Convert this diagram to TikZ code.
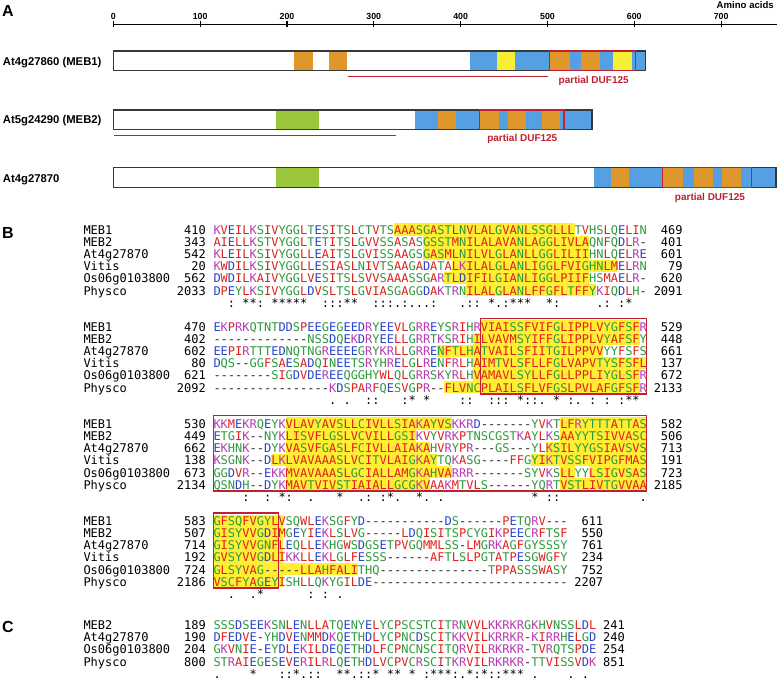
\documentclass[tikz,border=0pt]{standalone}
\usepackage{fontspec}
\setmainfont{Liberation Sans}
\newfontfamily\seqfont{DejaVu Sans Mono}
\definecolor{aared}{HTML}{E0201B}
\definecolor{aablue}{HTML}{2B44C8}
\definecolor{aamag}{HTML}{B83BB5}
\definecolor{aagreen}{HTML}{2E9A3E}
\definecolor{gapc}{HTML}{222222}
\definecolor{hly}{HTML}{FFEE33}
\definecolor{boxred}{HTML}{C0202F}
\definecolor{fblue}{HTML}{559FE3}
\definecolor{forange}{HTML}{DF962A}
\definecolor{fyellow}{HTML}{F7EE35}
\definecolor{fgreen}{HTML}{9CC63C}
\definecolor{barline}{HTML}{383838}
\newlength\cw \setlength\cw{7.224pt}
\makeatletter
\def\mkres#1#2{\expandafter\def\csname res@#1\endcsname{\textcolor{#2}{#1}}}
\mkres A{aared}\mkres V{aared}\mkres F{aared}\mkres P{aared}\mkres M{aared}\mkres I{aared}\mkres L{aared}\mkres W{aared}
\mkres D{aablue}\mkres E{aablue}
\mkres R{aamag}\mkres K{aamag}
\mkres S{aagreen}\mkres T{aagreen}\mkres Y{aagreen}\mkres H{aagreen}\mkres C{aagreen}\mkres N{aagreen}\mkres G{aagreen}\mkres Q{aagreen}
\mkres -{gapc}
\mkres *{black}\mkres :{black}\mkres .{black}
\expandafter\def\csname res@x\endcsname{}
\def\seqrun#1{\ifx#1\relax\else\hbox to\cw{\hss\csname res@#1\endcsname\hss}\expandafter\seqrun\fi}
\newcommand\sq[1]{\seqrun#1\relax}
\makeatother
\newcommand\seqrow[6]{%
  \node[txt,anchor=base west] at (83.3,#1+4.4) {#2};
  \node[txt,anchor=base east] at (206.08,#1+4.4) {#3};
  \node[txt,anchor=base west] at (213.3,#1+4.4) {\sq{#4}};
  \node[txt,anchor=base east] at (#6,#1+4.4) {#5};}
\newcommand\consrow[2]{\node[txt,anchor=base west] at (213.3,#1+4.4) {\sq{#2}};}
\newcommand\hl[3]{\fill[hly] (213.3+#2*7.224-7.224,#1-6.6) rectangle (213.3+#3*7.224,#1+5.53);}
\newcommand\redbox[4]{\draw[boxred,line width=1.4] (213.3+#3*7.224-7.224,#1-8.3) rectangle (213.3+#4*7.224,#2+6.3);}
\newcommand\feat[5]{\fill[#1] (#2,#4) rectangle (#3,#5);}
\begin{document}
\begin{tikzpicture}[x=1pt,y=-1pt,
  txt/.style={font=\seqfont\fontsize{12}{12}\selectfont, inner sep=0pt, text=black},
  tick/.style={font=\bfseries\fontsize{8.8}{9}\selectfont, inner sep=0pt, anchor=base},
  gene/.style={font=\bfseries\fontsize{11.3}{12}\selectfont, inner sep=0pt, anchor=base west},
  duf/.style={font=\bfseries\fontsize{10}{10}\selectfont, inner sep=0pt, anchor=base, text=boxred},
  panel/.style={font=\bfseries\fontsize{16}{16}\selectfont, inner sep=0pt, anchor=base west},
  bar/.style={draw=barline, line width=1.5},
  dbox/.style={draw=boxred, line width=1.3},
  uline/.style={draw=boxred, line width=1.4}]
\useasboundingbox (0,0) rectangle (778,682);
\fill[white] (0,0) rectangle (778,682);

% ---------------- Panel A ----------------
\node[panel] (labA) at (1.8,16.6) {A};
\node[font=\bfseries\fontsize{9.6}{10}\selectfont, inner sep=0pt, anchor=base east] (aa) at (774,9) {Amino acids};
\draw[line width=1.3] (113.3,24.3) -- (776.5,24.3);
\foreach \k in {0,...,7} {
  \draw[line width=1.1] (113.3+86.83*\k,20.7) -- (113.3+86.83*\k,27.5);
  \pgfmathtruncatemacro\lab{100*\k}
  \node[tick] (t\k) at (113.3+86.83*\k,19.2) {\lab};
}
% MEB1
\node[gene] (g1) at (2.7,65.5) {At4g27860 (MEB1)};
\fill[white] (113.3,51) rectangle (645.7,70.7);
\feat{forange}{294.3}{313.3}{51}{70.7}
\feat{forange}{328.7}{347.3}{51}{70.7}
\feat{fblue}{470}{496.7}{51}{70.7}
\feat{fyellow}{496.7}{515}{51}{70.7}
\feat{fblue}{515}{549.3}{51}{70.7}
\feat{forange}{549.3}{570}{51}{70.7}
\feat{fblue}{570}{581}{51}{70.7}
\feat{forange}{581}{600}{51}{70.7}
\feat{fblue}{600}{613.3}{51}{70.7}
\feat{fyellow}{613.3}{632.3}{51}{70.7}
\feat{fblue}{632.3}{645.7}{51}{70.7}
\draw[bar] (113.3,51) rectangle (645.7,70.7);
\draw[dbox] (549.3,51) rectangle (635.7,70.7);
\coordinate (u1a) at (348.3,76.5); \coordinate (u1b) at (547.7,76.5);
\draw[uline] (u1a) -- (u1b);
\node[duf] (d1) at (593.7,84) {partial DUF125};
% MEB2
\node[gene] (g2) at (2.7,124) {At5g24290 (MEB2)};
\fill[white] (113.3,110) rectangle (592,129.3);
\feat{fgreen}{276}{319.3}{110}{129.3}
\feat{fblue}{415}{437.7}{110}{129.3}
\feat{forange}{437.7}{456}{110}{129.3}
\feat{fblue}{456}{479.3}{110}{129.3}
\feat{forange}{479.3}{499.3}{110}{129.3}
\feat{fblue}{499.3}{507.7}{110}{129.3}
\feat{forange}{507.7}{525.7}{110}{129.3}
\feat{fblue}{525.7}{542.3}{110}{129.3}
\feat{forange}{542.3}{560}{110}{129.3}
\feat{fblue}{560}{592}{110}{129.3}
\draw[bar] (113.3,110) rectangle (592,129.3);
\draw[dbox] (479.3,110) rectangle (564,129.3);
\coordinate (u2a) at (114.3,135.5); \coordinate (u2b) at (395.7,135.5);
\draw[uline] (u2a) -- (u2b);
\node[duf] (d2) at (522.3,141) {partial DUF125};
% At4g27870
\node[gene] (g3) at (2.7,182.7) {At4g27870};
\fill[white] (113.3,167.7) rectangle (776,187.3);
\feat{fgreen}{276}{319.3}{167.7}{187.3}
\feat{fblue}{594}{610.7}{167.7}{187.3}
\feat{forange}{610.7}{629.3}{167.7}{187.3}
\feat{fblue}{629.3}{662.7}{167.7}{187.3}
\feat{forange}{662.7}{683.3}{167.7}{187.3}
\feat{fblue}{683.3}{694.3}{167.7}{187.3}
\feat{forange}{694.3}{713.3}{167.7}{187.3}
\feat{fblue}{713.3}{722.3}{167.7}{187.3}
\feat{forange}{722.3}{741}{167.7}{187.3}
\feat{fblue}{741}{776}{167.7}{187.3}
\draw[bar] (113.3,167.7) rectangle (776,187.3);
\draw[dbox] (662.7,167.7) rectangle (751.7,187.3);
\node[duf] (d3) at (710,200) {partial DUF125};

% ---------------- Panel B ----------------
\node[panel] (labB) at (1.8,238) {B};
% highlights
\hl{230}{26}{50}
\hl{242.13}{30}{52}
\hl{254.26}{30}{52}
\hl{266.39}{34}{56}
\hl{278.52}{33}{52}
\hl{290.65}{36}{53}
\hl{327.04}{38}{59}
\hl{339.17}{37}{59}
\hl{351.30}{32}{54}
\hl{363.43}{37}{60}
\hl{375.56}{37}{59}
\hl{387.69}{33}{59}
\hl{424.08}{11}{33} \hl{424.08}{49}{60}
\hl{436.21}{11}{28} \hl{436.21}{49}{60}
\hl{448.34}{11}{30} \hl{448.34}{47}{60}
\hl{460.47}{9}{31} \hl{460.47}{45}{60}
\hl{472.60}{11}{33} \hl{472.60}{49}{50} \hl{472.60}{53}{60}
\hl{484.73}{11}{30} \hl{484.73}{49}{60}
\hl{521.12}{1}{9.7}
\hl{533.25}{1}{9.7}
\hl{545.38}{1}{9.7}
\hl{557.51}{1}{9.7}
\hl{569.64}{1}{20}
\hl{581.77}{1}{9.7}

% block 1
\seqrow{230}{MEB1}{410}{KVEILKSIVYGGLTESITSLCTVTSAAASGASTLNVLALGVANLSSGLLLTVHSLQELIN}{469}{682.86}
\seqrow{242.13}{MEB2}{343}{AIELLKSTVYGGLTETITSLGVVSSASASGSSTMNILALAVANLAGGLIVLAQNFQDLR-}{401}{682.86}
\seqrow{254.26}{At4g27870}{542}{KLEILKSIVYGGLLEAITSLGVISSAAGSGASMLNILVLGLANLLGGLILIIHNLQELRE}{601}{682.86}
\seqrow{266.39}{Vitis}{20}{KWDILKSIVYGGLLESIASLNIVTSAAGADATALKILALGLANLIGGLFVIGHNLMELRN}{79}{682.86}
\seqrow{278.52}{Os06g0103800}{562}{DWDILKAIVYGGLVESITSLSVVSAAASSGARTLDIFILGIANLIGGLPIIFHSMAELR-}{620}{682.86}
\seqrow{290.65}{Physco}{2033}{DPEYLKSIVYGGLDVSLTSLGVIASGAGGDAKTRNILALGLANLFFGFLTFFYKIQDLH-}{2091}{682.86}
\consrow{302.78}{xx:x**:x*****xx:::**xx:::.:...:xxx.::x*.:***xx*:xxxxx.:x:*}

% block 2
\seqrow{327.04}{MEB1}{470}{EKPRKQTNTDDSPEEGEGEEDRYEEVLGRREYSRIHRVIAISSFVIFGLIPPLVYGFSFR}{529}{682.86}
\seqrow{339.17}{MEB2}{402}{-------------NSSDQEKDRYEELLGRRTKSRIHILVAVMSYIFFGLIPPLVYAFSFY}{448}{682.86}
\seqrow{351.30}{At4g27870}{602}{EEPIRTTTEDNQTNGREEEEGRYKRLLGRRENFTLHATVAILSFIITGILPPVVYYFSFS}{661}{682.86}
\seqrow{363.43}{Vitis}{80}{DQS--GGFSAESADQINEETSRYHRELGLRENFRLHAIMTVLSFLLFGLVAPVTYSFSFL}{137}{682.86}
\seqrow{375.56}{Os06g0103800}{621}{--------SIGDVDEREEQGGHYWLQLGRRSKYRLHVAMAVLSYLLFGLLPPLIYGLSFR}{672}{682.86}
\seqrow{387.69}{Physco}{2092}{----------------KDSPARFQESVGPR--FLVNCPLAILSFLVFGSLPVLAFGFSFR}{2133}{682.86}
\consrow{399.82}{xxxxxxxxxxxxxxxx.x.xx::xxx:*x*xxxx::xx:::x*::.x*x:.x:x:x:**}

% block 3
\seqrow{424.08}{MEB1}{530}{KKMEKRQEYKVLAVYAVSLLCIVLLSIAKAYVSKKRD-------YVKTLFRYTTTATTAS}{582}{682.86}
\seqrow{436.21}{MEB2}{449}{ETGIK--NYKLISVFLGSLVCVILLGSIKVYVRKPTNSCGSTKAYLKSAAYYTSIVVASC}{506}{682.86}
\seqrow{448.34}{At4g27870}{662}{EKHNK--DYKVASVFGASLFCIVLLAIAKAHVRYPR---GS---YLKSILYYGSIAVSVS}{713}{682.86}
\seqrow{460.47}{Vitis}{138}{KSGNK--DLKLVAVAAASLVCITVLAIGKAYTQKASG----FFGYIKTVSSFVIPGFMAS}{191}{682.86}
\seqrow{472.60}{Os06g0103800}{673}{GGDVR--EKKMVAVAAASLGCIALLAMGKAHVARRR-------SYVKSLLYYLSIGVSAS}{723}{682.86}
\seqrow{484.73}{Physco}{2134}{QSNDH--DYKMAVTVIVSTIAIALLGCGKVAAKMTVLS------YQRTVSTLIVTGVVAA}{2185}{682.86}
\consrow{496.86}{xxxx:xx:x*:xx.xxx*xx.:x:*.xx*.x.xxxxxxxxxxxx*x::xxxxxxxxxxx.}

% block 4
\seqrow{521.12}{MEB1}{583}{GFSQFVGYLVSQWLEKSGFYD-----------DS------PETQRV---}{611}{603.4}
\seqrow{533.25}{MEB2}{507}{GISYVVGDIMGEYIEKLSLVG-----LDQISITSPCYGIKPEECRFTSF}{550}{603.4}
\seqrow{545.38}{At4g27870}{714}{GISYVVGNFLEQLLEKHGWSDGSETPVGQMMLSS-LMGRKAGFGYSSSY}{761}{603.4}
\seqrow{557.51}{Vitis}{192}{GVSYVVGDLIKKLLEKLGLFESSS------AFTLSLPGTATPESGWGFY}{234}{603.4}
\seqrow{569.64}{Os06g0103800}{724}{GLSYVAG-----LLAHFALITHQ---------------TPPASSSWASY}{752}{603.4}
\seqrow{581.77}{Physco}{2186}{VSCFYAGEYISHLLQKYGILDE---------------------------}{2207}{603.4}
\consrow{593.90}{xx.xx.*xxxxxx:x:x.}

% boxes
\redbox{327.04}{387.69}{38}{60}
\redbox{424.08}{484.73}{1}{60}
\redbox{521.12}{581.77}{1}{9}

% ---------------- Panel C ----------------
\node[panel] (labC) at (1.8,632) {C};
\seqrow{625}{MEB2}{189}{SSSDSEEKSNLENLLATQENYELYCPSCSTCITRNVVLKKRKRGKHVNSSLDL}{241}{625.07}
\seqrow{637.2}{At4g27870}{190}{DFEDVE-YHDVENMMDKQETHDLYCPNCDSCITKKVILKRRKR-KIRRHELGD}{240}{625.07}
\seqrow{649.4}{Os06g0103800}{204}{GKVNIE-EYDLEKILDEQETHDLFCPNCNSCITQRVILRKRKR-TVRQTSPDE}{254}{625.07}
\seqrow{661.6}{Physco}{800}{STRAIEGESEVERILRLQETHDLVCPVCRSCITKRVILRKRKR-TTVISSVDK}{851}{625.07}
\consrow{673.8}{.xxxx*xxx::*.::xx**.::*x**x*x:***:.*:*::***x.xxxx.x.}
\end{tikzpicture}
\end{document}
